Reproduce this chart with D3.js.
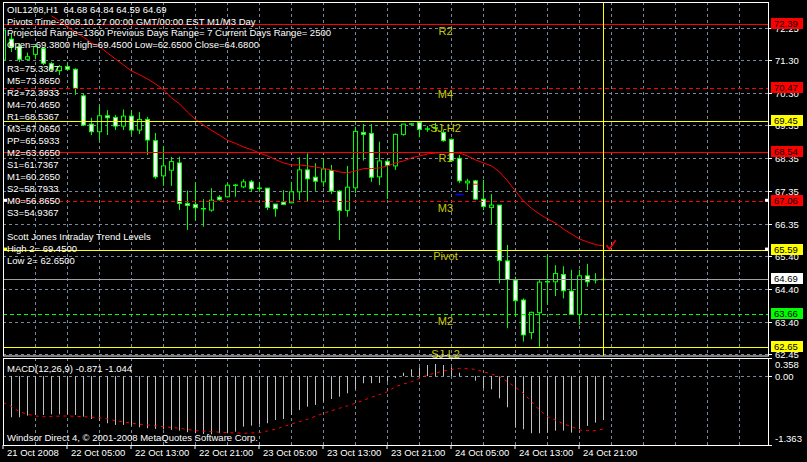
<!DOCTYPE html>
<html><head><meta charset="utf-8">
<script src="https://cdn.jsdelivr.net/npm/d3@7"></script>
<style>html,body{margin:0;padding:0;background:#000;overflow:hidden}svg{display:block}text{font-family:"Liberation Sans",Arial,sans-serif;white-space:pre}</style>
</head><body><svg id="c" width="807" height="462"></svg>
<script>
// ---------- data ----------
const open=[71.30,71.93,71.70,71.32,71.47,71.65,71.19,70.98,71.10,71.02,70.22,69.37,69.14,69.62,69.57,69.31,69.61,69.19,69.51,68.87,67.81,67.98,68.20,66.98,66.95,66.82,66.78,67.17,67.18,67.53,67.48,67.63,67.44,67.44,66.96,67.02,67.00,67.33,67.99,67.77,67.63,67.97,67.35,66.77,67.45,69.12,69.09,67.78,68.25,68.11,69.06,69.37,69.42,69.22,69.25,69.12,68.91,68.34,67.60,67.66,67.11,66.86,66.93,65.25,64.67,64.07,63.09,63.69,64.62,64.62,64.84,64.34,63.64,64.80,64.68,64.68];
const high=[72.44,72.11,71.81,71.52,71.75,71.68,71.24,71.15,71.20,71.05,70.28,69.56,69.91,69.79,69.64,69.81,69.79,69.73,69.59,69.10,68.71,68.38,68.39,67.37,67.61,67.11,67.44,67.23,67.59,67.57,67.71,67.69,67.62,67.45,66.96,67.38,67.63,68.37,68.49,68.19,68.34,68.14,67.38,68.11,69.29,69.37,69.37,68.84,68.29,69.09,69.37,69.39,69.42,69.31,69.41,69.19,68.94,68.44,67.72,67.69,67.69,67.26,66.93,65.73,64.77,64.12,63.72,64.67,65.43,65.12,65.09,64.98,64.98,65.16,64.88,64.84];
const low=[71.09,71.54,71.24,71.28,71.32,71.15,70.97,70.85,70.98,70.25,69.31,69.04,68.87,69.04,69.19,69.19,69.04,69.07,68.44,67.72,67.51,67.51,66.78,66.18,66.46,66.28,66.73,67.07,67.16,67.18,67.44,67.33,67.33,66.78,66.58,66.93,66.98,67.08,67.05,67.36,67.48,67.26,65.88,66.58,67.29,68.27,67.63,67.53,67.11,67.99,69.02,69.34,68.97,69.14,69.16,68.84,68.24,67.59,67.38,67.08,66.78,66.36,64.57,63.22,63.57,62.82,62.89,62.66,63.92,64.19,64.12,63.62,63.32,64.47,64.57,64.59];
const close=[72.20,71.69,71.32,71.40,71.70,71.20,71.03,71.10,71.02,70.45,69.34,69.14,69.62,69.56,69.31,69.61,69.19,69.51,68.89,67.78,68.11,68.24,66.98,66.92,66.85,66.82,67.08,67.09,67.53,67.53,67.63,67.42,67.44,66.86,66.82,66.95,67.33,67.99,67.72,67.65,68.02,67.35,66.77,67.47,69.15,69.06,67.77,68.26,68.13,69.06,69.37,69.37,69.21,69.22,69.25,68.87,68.27,67.66,67.65,67.11,66.89,66.93,65.26,64.69,64.05,63.02,63.70,64.61,64.62,64.87,64.35,63.64,64.80,64.62,64.68,64.69];
const maStart=6;
const maValues=[72.63,72.47,72.29,72.14,71.99,71.81,71.71,71.51,71.33,71.15,70.97,70.86,70.73,70.58,70.40,70.16,69.98,69.73,69.51,69.34,69.18,69.04,68.88,68.79,68.68,68.60,68.50,68.41,68.30,68.20,68.14,68.14,68.11,68.08,68.03,67.99,67.93,67.90,67.96,68.03,68.03,68.05,68.11,68.20,68.26,68.35,68.41,68.47,68.50,68.51,68.51,68.50,68.41,68.29,68.20,68.11,67.93,67.66,67.35,67.05,66.83,66.66,66.51,66.39,66.21,66.06,65.91,65.82,65.74,65.70];
const macdHist=[-0.834,-0.814,-0.814,-0.782,-0.769,-0.769,-0.756,-0.756,-0.756,-0.769,-0.802,-0.848,-0.887,-0.933,-0.966,-0.966,-0.980,-1.012,-1.032,-1.045,-1.052,-1.065,-1.079,-1.111,-1.130,-1.144,-1.150,-1.130,-1.130,-1.099,-1.000,-0.980,-0.947,-0.933,-0.868,-0.848,-0.769,-0.670,-0.605,-0.571,-0.506,-0.453,-0.407,-0.340,-0.261,-0.142,-0.142,-0.136,-0.111,-0.040,0.067,0.134,0.174,0.219,0.239,0.219,0.174,0.067,-0.018,-0.091,-0.241,-0.261,-0.439,-0.617,-1.020,-1.051,-1.130,-1.130,-1.119,-1.079,-1.079,-1.119,-1.051,-0.986,-0.921,-0.871];
const macdSignal=[-0.526,-0.605,-0.704,-0.755,-0.789,-0.803,-0.798,-0.792,-0.789,-0.795,-0.803,-0.813,-0.823,-0.848,-0.882,-0.907,-0.933,-0.951,-0.966,-0.986,-1.000,-1.016,-1.032,-1.055,-1.079,-1.089,-1.099,-1.109,-1.119,-1.125,-1.130,-1.125,-1.119,-1.085,-1.051,-1.000,-0.946,-0.901,-0.854,-0.794,-0.735,-0.686,-0.636,-0.587,-0.538,-0.478,-0.419,-0.364,-0.308,-0.209,-0.156,-0.111,-0.047,0.022,0.061,0.101,0.126,0.154,0.146,0.134,0.087,0.042,-0.012,-0.111,-0.221,-0.340,-0.506,-0.670,-0.803,-0.868,-0.947,-1.000,-1.065,-1.079,-1.079,-1.044];
const priceTicks=[72.25,71.30,70.30,69.35,68.35,67.35,66.35,65.40,64.40,63.40,62.45];
const macdTicks=[0.358,0,-1.363];
const macdTickLabels=["0.358","0.00","-1.363"];
const timeLabelBars=[0,8,16,24,32,40,48,56,64,72];
const timeLabels=["21 Oct 2008","22 Oct 05:00","22 Oct 13:00","22 Oct 21:00","23 Oct 05:00","23 Oct 13:00","23 Oct 21:00","24 Oct 05:00","24 Oct 13:00","24 Oct 21:00"];
const levelValues=[72.39,70.47,69.45,68.54,67.06,65.59,64.69,63.66,62.65];
const levelNames=["R2","M4","SJ-H2","R1","M3","Pivot","","M2","SJ-L2"];
const headerLines=["OIL1208,H1  64.68 64.84 64.59 64.69","Pivots Time-2008.10.27 00:00 GMT/00:00 EST M1/M3 Day","Projected Range=1360 Previous Days Range= 7 Current Days Range= 2500","Open=69.3800 High=69.4500 Low=62.6500 Close=64.6800"];
const pivotLines=["R3=75.3367","M5=73.8650","R2=72.3933","M4=70.4650","R1=68.5367","M3=67.0650","PP=65.5933","M2=63.6650","S1=61.7367","M1=60.2650","S2=58.7933","M0=56.8650","S3=54.9367"];
const sjLines=["Scott Jones Intraday Trend Levels","High 2= 69.4500","Low 2= 62.6500"];
const macdTitle="MACD(12,26,9) -0.871 -1.044";
const footer="Windsor Direct 4, \u00a9 2001-2008 MetaQuotes Software Corp.";

// ---------- layout ----------
const L=3,R=769,T=2,MB=355.5,ST=358,SB=445;
const svg=d3.select("#c");
svg.append("rect").attr("width",807).attr("height",462).attr("fill","#000");
const n=open.length;
const x=d3.scaleLinear().domain([0,n-1]).range([3.5,3.5+8*(n-1)]);
const y=d3.scaleLinear().domain([62.40,73.047]).range([MB,T]);
const ym=d3.scaleLinear().domain([-1.363,0.358]).range([SB,ST]);
const GRID="#778899", WHITE="#ffffff", LIME="#00ff00", RED="#ff0000", YEL="#ffff00";

svg.append("defs").append("clipPath").attr("id","mc").append("rect").attr("x",L).attr("y",T).attr("width",R-L).attr("height",MB-T);
svg.select("defs").append("clipPath").attr("id","sc").append("rect").attr("x",L).attr("y",ST).attr("width",R-L).attr("height",SB-ST);

// vertical grid
const vgrid=d3.range(4,n+ (R-L)/8,4).map(i=>x(i)).filter(v=>v<R-5);
[[T,MB],[ST,SB]].forEach(([a,b])=>{
  svg.append("g").selectAll("line").data(vgrid).join("line")
    .attr("x1",d=>d).attr("x2",d=>d).attr("y1",a).attr("y2",b)
    .attr("stroke",GRID).attr("stroke-dasharray","3,3");
});
// horizontal grid main
svg.append("g").selectAll("line").data(priceTicks).join("line")
  .attr("x1",L).attr("x2",R).attr("y1",d=>Math.round(y(d))+0.5).attr("y2",d=>Math.round(y(d))+0.5)
  .attr("stroke",GRID).attr("stroke-dasharray","3,3");
// zero line macd
svg.append("line").attr("x1",L).attr("x2",R).attr("y1",Math.round(ym(0))+0.5).attr("y2",Math.round(ym(0))+0.5)
  .attr("stroke",GRID).attr("stroke-dasharray","3,3");

// ---------- candles ----------
const cg=svg.append("g").attr("clip-path","url(#mc)");
const idx=d3.range(n);
cg.selectAll("line.w").data(idx).join("line").attr("class","w")
  .attr("x1",i=>x(i)).attr("x2",i=>x(i)).attr("y1",i=>y(high[i])).attr("y2",i=>y(low[i]))
  .attr("stroke",LIME).attr("stroke-width",1);
cg.selectAll("rect.b").data(idx.filter(i=>Math.abs(y(open[i])-y(close[i]))>=1.5)).join("rect").attr("class","b")
  .attr("x",i=>x(i)-2).attr("width",4)
  .attr("y",i=>Math.min(y(open[i]),y(close[i])))
  .attr("height",i=>Math.abs(y(open[i])-y(close[i])))
  .attr("fill",i=>close[i]<open[i]?WHITE:"#000").attr("stroke",LIME).attr("stroke-width",1);
cg.selectAll("line.d").data(idx.filter(i=>Math.abs(y(open[i])-y(close[i]))<1.5)).join("line").attr("class","d")
  .attr("x1",i=>x(i)-2.5).attr("x2",i=>x(i)+2.5)
  .attr("y1",i=>y(close[i])).attr("y2",i=>y(close[i]))
  .attr("stroke",LIME).attr("stroke-width",1.5);

// moving average
const ma=maValues.map((v,k)=>[x(maStart+k),y(v)]);
cg.append("path").attr("d",d3.line()(ma)).attr("fill","none").attr("stroke",RED).attr("stroke-width",1);
// small markers
cg.append("line").attr("x1",x(59)-3).attr("x2",x(59)+3).attr("y1",y(67.56)).attr("y2",y(67.56)).attr("stroke",RED);
cg.append("line").attr("x1",x(56)+4).attr("x2",x(57)+4).attr("y1",y(67.25)).attr("y2",y(67.25)).attr("stroke","#0000ff").attr("stroke-width",1.5);
cg.append("path").attr("d",`M${x(75)+3},${y(65.72)} L${x(75)+6},${y(65.60)} L${x(75)+12},${y(65.87)}`)
  .attr("fill","none").attr("stroke",RED).attr("stroke-width",1.5);

// ---------- levels ----------
const levelColor=[RED,RED,YEL,RED,RED,YEL,"#a0a0a0","#00ff00",YEL];
const levelDash=[null,"4,3",null,null,"4,3",null,null,"4,3",null];
const tagFill=[RED,RED,YEL,RED,RED,YEL,WHITE,LIME,YEL];
const lg=svg.append("g");
levelValues.forEach((v,k)=>{
  const yy=Math.round(y(v))+0.5;
  lg.append("line").attr("x1",L).attr("x2",R).attr("y1",yy).attr("y2",yy)
    .attr("stroke",levelColor[k]).attr("stroke-dasharray",levelDash[k]);
});
// vertical yellow line at last bar
lg.append("line").attr("x1",x(n-1)).attr("x2",x(n-1)).attr("y1",T).attr("y2",MB).attr("stroke",YEL);
// anchor squares
lg.append("rect").attr("x",R-4).attr("y",y(67.06)-2).attr("width",3).attr("height",3).attr("fill",WHITE);
lg.append("rect").attr("x",L+1).attr("y",y(67.06)-2).attr("width",3).attr("height",3).attr("fill",WHITE);
lg.append("rect").attr("x",R-4).attr("y",y(65.59)-2).attr("width",3).attr("height",3).attr("fill",WHITE);
lg.append("rect").attr("x",L+1).attr("y",y(65.59)-2).attr("width",3).attr("height",3).attr("fill",YEL);

// level names on chart
lg.selectAll("text.ln").data(levelNames.map((s,k)=>[s,levelValues[k]]).filter(d=>d[0])).join("text").attr("class","ln")
  .attr("x",x(55)+2).attr("y",d=>y(d[1])+7).attr("dy","0.35em").attr("text-anchor","middle")
  .attr("font-size",11).attr("fill","#c8c800").text(d=>d[0]);

// ---------- MACD ----------
const sg=svg.append("g").attr("clip-path","url(#sc)");
sg.selectAll("line.h").data(idx).join("line").attr("class","h")
  .attr("x1",i=>x(i)).attr("x2",i=>x(i)).attr("y1",ym(0)).attr("y2",i=>ym(macdHist[i]))
  .attr("stroke","#c0c0c0");
sg.append("path").attr("d",d3.line().x((d,i)=>x(i)).y(d=>ym(d))(macdSignal))
  .attr("fill","none").attr("stroke",RED).attr("stroke-dasharray","3,4");

// ---------- frames & axes ----------
svg.append("rect").attr("x",L+0.5).attr("y",T+0.5).attr("width",R-L-1).attr("height",MB-T).attr("fill","none").attr("stroke",WHITE);
svg.append("rect").attr("x",L+0.5).attr("y",ST+0.5).attr("width",R-L-1).attr("height",SB-ST).attr("fill","none").attr("stroke",WHITE);
const fs=9.5;
// price axis
const pa=svg.append("g");
priceTicks.forEach(v=>{
  const yy=Math.round(y(v))+0.5;
  pa.append("line").attr("x1",R).attr("x2",R+3).attr("y1",yy).attr("y2",yy).attr("stroke",WHITE);
  pa.append("text").attr("x",775).attr("y",yy).attr("dy","0.35em").attr("font-size",fs).attr("fill",WHITE).text(v.toFixed(2));
});
macdTicks.forEach((v,k)=>{
  const yy=[365,376.5,439][k];
  pa.append("line").attr("x1",R).attr("x2",R+3).attr("y1",Math.round(ym(v))+0.5).attr("y2",Math.round(ym(v))+0.5).attr("stroke",WHITE);
  pa.append("text").attr("x",775).attr("y",yy).attr("dy","0.35em").attr("font-size",fs).attr("fill",WHITE).text(macdTickLabels[k]);
});
// price tags
levelValues.forEach((v,k)=>{
  const yy=Math.round(y(v));
  pa.append("rect").attr("x",771).attr("y",yy-6).attr("width",32).attr("height",11).attr("fill",tagFill[k]);
  pa.append("text").attr("x",774).attr("y",yy-0.5).attr("dy","0.35em").attr("font-size",fs).attr("fill","#000").text(v.toFixed(2));
});
// time axis
const ta=svg.append("g");
timeLabelBars.forEach((b,k)=>{
  const xx=x(b)-0.5;
  ta.append("line").attr("x1",xx).attr("x2",xx).attr("y1",SB).attr("y2",SB+4).attr("stroke",WHITE);
  ta.append("text").attr("x",xx+4).attr("y",453).attr("dy","0.35em").attr("font-size",fs).attr("fill",WHITE).text(timeLabels[k]);
});

// ---------- texts ----------
const tg=svg.append("g").attr("fill",WHITE).attr("font-size",fs);
headerLines.forEach((s,k)=>tg.append("text").attr("x",7).attr("y",10+11.4*k).attr("dy","0.35em").text(s));
pivotLines.forEach((s,k)=>tg.append("text").attr("x",7).attr("y",68.3+12*k).attr("dy","0.35em").text(s));
sjLines.forEach((s,k)=>tg.append("text").attr("x",7).attr("y",236.5+12*k).attr("dy","0.35em").text(s));
tg.append("text").attr("x",7).attr("y",368.5).attr("dy","0.35em").text(macdTitle);
tg.append("text").attr("x",7).attr("y",437.3).attr("dy","0.35em").text(footer);
</script></body></html>
